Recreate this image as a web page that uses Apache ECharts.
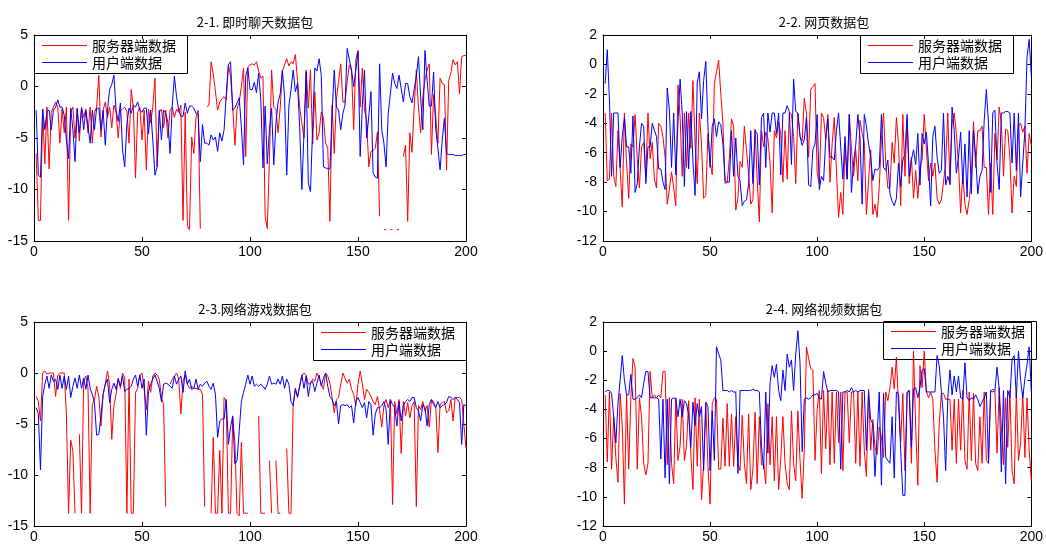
<!DOCTYPE html>
<html>
<head>
<meta charset="utf-8">
<title>数据包</title>
<script src="https://cdn.jsdelivr.net/npm/echarts@6/dist/echarts.min.js"></script>
<style>
  html, body { margin: 0; padding: 0; background: #fff; }
  #chart { width: 1046px; height: 545px; }
</style>
</head>
<body>
<div id="chart"></div>
<script>
// titles / legend names / ticks
const titles = ['2-1. 即时聊天数据包', '2-2. 网页数据包', '2-3.网络游戏数据包', '2-4. 网络视频数据包']
const seriesNames = ['服务器端数据', '用户端数据']
const seriesColors = ['#ff0000', '#0000ff']
const xTicks = [0, 50, 100, 150, 200]
const yTicksWide = [-15, -10, -5, 0, 5]
const yTicksNarrow = [-12, -10, -8, -6, -4, -2, 0, 2]

// 2-1 即时聊天
const chatServer = [
  -6.5, -13, -13, -2.2, -7.5, -2, -8, -2.5, -2, -1.5,
  -2, -5.5, -2.2, -4.5, -2, -13, -2.5, -2, -5, -2.2,
  -5.3, -2, -3, -2.2, -4.5, -2, -5.5, -2.5, -2, 1.1,
  -4.9, -2.3, -1.5, -3, -2, -4, -1.8, -2.5, -5, -2.3,
  -2.2, -2, -2.4, -5.5, -0.3, -2, -8.9, -2.5, -2, -5.2,
  -2.3, -8.1, -2.2, -3.5, -2, 0.8, -7.8, -2.5, -2.2, -4,
  -2.3, -5, -2.3, -2, -3, -2.2, -2.5, -1.8, -13, -2.5,
  -13.5, -13.9, -4.9, -6.5, -3, -2.3, -13.8, null, null, -2,
  -1.8, 2.4, 1.2, -0.5, -2.3, -1.5, -1.2, -1, -1.3, 2.1,
  1, -2, -5.7, -2.2, -1.5, 0, 1.8, -6.8, 1.9, 2.1,
  2.2, 2.1, 2.4, 1.5, 0.8, 1, -12.6, -13.8, -7, 1.6,
  -2, -2.2, -4.5, -2, 1.5, 2.1, 2.7, 2, 2.4, 2.2,
  3.1, 0.6, -2, -3.5, -5, 1.6, -2.1, 1.6, -5.6, -0.5,
  -5.2, -4.5, -2.5, -3, -5.5, -6, -13.1, -1.8, -6.5, -1.3,
  0.5, 2.2, -1.5, -1.5, 0.5, 2.1, 1.6, -4.2, 2.6, 3.5,
  -2, 1.8, -2.3, -3.2, -7.8, -6.3, -6.2, -6, -4.4, -12.6,
  null, -13.9, -13.9, null, -13.9, -13.9, null, -13.9, -13.9, null,
  -6.8, -5.7, -13.1, -4.5, -6.4, -2, 1.6, -2, -4.5, -1,
  0.6, 1.6, 2.2, -6.6, -0.8, -3, -5.5, 0.8, 0.3, 0.2,
  -8.1, 0.6, 1.3, 2.6, 2.1, 2.4, -0.7, 2.9, 3, 3
]
const chatClient = [
  -2.3, -8.6, -8.8, -2.2, -4.2, -2.4, -2.3, -4.2, -2.3, -2,
  -1.3, -2, -2, -2.8, -5.2, -7, -2.1, -4.2, -7.3, -2.1,
  -4.5, -2.1, -4.2, -2.3, -3.9, -5.5, -2.3, -4.2, -2.1, -2.1,
  -4.2, -2.3, -5.7, -2.3, -0.3, 0.2, 1.1, -2.3, -3.4, -1.6,
  -6.2, -7.8, -3.6, -2.1, -2.6, -1.8, -2, -1.5, -2.3, -2.5,
  -2.1, -2.1, -4.6, -2.3, -5.2, -8.6, -7.8, -2.3, -5.2, -2.3,
  -2.6, -3.5, -6.5, -1.9, 1, -1, -2.3, -2.9, -2.9, -1.6,
  -2.6, -1.9, -1.9, -2.1, -2.6, -2.7, -7.3, -3.7, -5.5, -5.5,
  -5.7, -4.7, -5.2, -4.9, -6.3, -4.5, -5.3, -4.2, -0.8, 2.1,
  2.4, -2.3, -2.1, -1.6, -1.1, -3.9, -7.6, 1, 1.8, -0.3,
  -0.3, 0.4, -0.6, 1.3, -1.3, -7.9, -1.9, -7.5, -4.2, -2.1,
  -7.6, -3.6, -1.5, -0.7, 1.6, -1, -8.6, -1.9, -0.3, 1.6,
  -0.5, 0.3, -4, -10, -4.5, 1.4, -9.4, -10.2, -4, 1.8,
  1.5, 2.7, 1.1, -7.8, -7.9, -8, -8, -2.6, 1.6, -2,
  -2.3, -4.2, -2.6, -1.8, 3.7, 2.6, 1.6, 0, 1.6, 3.4,
  -6.8, -1.9, 1.6, -5, -2.9, -0.5, -8.4, -8.8, -8.9, 2.2,
  -4.2, -5.5, -7.8, -2.6, -0.7, 1.3, 0.3, -0.2, 1.1, -0.2,
  -1.5, 0.3, 0.3, -1, -1.6, -0.3, 1, 2.9, -1, -4.2,
  3.5, 0.6, -1.9, -1.9, 1.4, -4.2, -6, -8.1, -5.2, -3.1,
  -6.5, -6.6, -6.6, -6.6, -6.7, -6.7, -6.7, -6.7, -6.6, -6.6
]

// 2-2 网页
const webServer = [
  -3.3, -7.9, -7.8, -3.3, -7.6, -8.3, -4.5, -7.1, -9.7, -3.3,
  -6.7, -9.1, -5.4, -5.6, -3.4, -6.4, -8.4, -5.6, -5.3, -7.6,
  -3.3, -6.4, -5.3, -7.8, -8.4, -4, -4.2, -4.9, -6.3, -9.5,
  -8.5, -7.3, -8.4, -9.6, -1.4, -3.6, -7.6, -3.3, -7, -3.3,
  -5.7, -1.1, -5.4, -8.1, -3.3, -5.4, -9.1, -8.9, -4.7, -6.6,
  -7.5, -1.3, -0.5, 0.3, -2, -4, -8.1, -8, -6.4, -3.7,
  -4.2, -9.9, -9.1, -6.6, -7, -4.2, -5.8, -7.5, -9.5, -9.2,
  -4.4, -7.8, -10.7, -4.5, -5.6, -4.6, -5, -6.7, -10.1, -4.5,
  -5, -3.9, -4.7, -8, -4.5, -7.8, -3.3, -3.4, -4.9, -8.1,
  -3.3, -4.9, -5.2, -2.3, -3.3, -6.3, -1.7, -1.5, -1.3, -7.4,
  -8.1, -3.3, -3.6, -5.1, -3.4, -8, -5.4, -3.6, -7.2, -10.4,
  -8.7, -10.2, -5.6, -7.8, -3.4, -5.7, -7.6, -5.8, -7.9, -3.8,
  -4.7, -5.3, -10.2, -7.9, -5.8, -10.2, -9.5, -10.4, -8.3, -5.1,
  -3.3, -6.6, -8.4, -8.4, -5.3, -6.7, -3.6, -5.5, -9.6, -3.4,
  -7.6, -3.7, -8.1, -6.3, -9.1, -7.2, -9.1, -7, -6.5, -3.4,
  -5.8, -7.9, -6.7, -7.6, -6.7, -9.1, -9.5, -9.2, -8, -6.7,
  -3.3, -8.2, -4, -3.3, -4.7, -6.8, -10.1, -7.4, -9.5, -10.2,
  -9.2, -7.6, -3.9, -7, -4.5, -4.5, -4.2, -7, -7, -10.2,
  -6.7, -10.2, -4.7, -6.5, -2.9, -4, -7.6, -4.4, -4.5, -6.3,
  -10.1, -7.6, -8.3, -4.2, -4, -4.6, -4.2, -7.4, -4.7, -5.5
]
const webClient = [
  -1.3, 1.0, -2.4, -7.6, -3.3, -3.3, -3.3, -7, -4.9, -3.6,
  -5.6, -5.6, -7.4, -3.5, -8.7, -8.1, -5.6, -4, -4.2, -8.1,
  -5.6, -5.6, -4, -4.5, -4.9, -7.1, -7.1, -8, -8.5, -1.6,
  -3.1, -7, -3.3, -7.5, -3.9, -1, -3.3, -8.3, -3.2, -7.1,
  -3.2, -6.6, -8.9, -1.2, -0.5, -3.7, -1.1, 0.2, -4.2, -7,
  -4.2, -3.7, -4.9, -3.9, -4.1, -5.4, -7.9, -8, -8, -4.5,
  -7.6, -5, -7.6, -7.9, -9.6, -9.3, -9.2, -8.1, -4.5, -8.1,
  -4.5, -4.7, -8.2, -3.6, -3.3, -7, -3.3, -4.6, -3.3, -3.3,
  -4.7, -3.3, -7.5, -3.3, -3.3, -2.8, -3.2, -6.8, -1, -3.2,
  -3.3, -4.9, -5.5, -5.1, -3.6, -8.2, -8.3, -5.8, -5.4, -3.4,
  -8.5, -7.6, -7.9, -5.1, -3.7, -6.3, -6.3, -6.5, -4.5, -3.3,
  -5.6, -7.8, -4.9, -7.8, -3.4, -8.7, -6.7, -5.5, -3.4, -5,
  -9.5, -3.4, -4.2, -5.4, -6.3, -7.9, -7.1, -7.2, -7, -3.4,
  -7, -7.2, -6.5, -8.8, -9.3, -9.6, -9.1, -6.7, -8.3, -6.5,
  -6.1, -3.4, -7.6, -6.5, -5.8, -6.8, -4.7, -8.2, -4.7, -5.4,
  -4.6, -6.8, -9.6, -4.9, -4.2, -6.3, -7.4, -7.2, -3.3, -8.2,
  -7.6, -8.1, -2.9, -4.5, -7.4, -6.3, -4.6, -8.1, -5.4, -9,
  -4.5, -8.8, -4.5, -6.2, -8.8, -7.6, -7.2, -3.8, -1.7, -4,
  -8.7, -3.3, -3.1, -6.7, -8.5, -3.3, -3.3, -3.2, -3.2, -3.3,
  -6.7, -3.3, -7.2, -3.3, -9, -6.7, -4.5, 0.5, 1.7, -0.8
]

// 2-3 网络游戏
const gameServer = [
  -2.3, -2.8, -4.7, 0, 0.2, -0.1, 0, 0, 0, -2.3,
  -0.2, 0, 0, 0, -4, -13.75, -6.6, -7.6, -13.75, null,
  -6, -13.75, -0.8, -0.3, -1.5, -13.75, -3.1, -2.6, -1.3, -2.3,
  -5.2, -2.1, -1.1, 0.2, -1.1, -6.5, -3.2, -2.1, -0.5, -1.5,
  0, -0.5, -13.75, -0.6, -13.75, -13.75, -1.9, -1.5, -0.2, 0,
  -1.6, -3.6, -0.8, -1.9, -0.3, 0, -0.2, -0.6, -2.4, -3.1,
  -13.1, null, -1.1, -0.6, -0.3, 0, -0.6, -4, -0.8, -0.2,
  -1.1, -1.5, -1.3, -1.5, -1.5, -1.6, -1.6, -2.1, -13.1, null,
  null, -13.75, -6.3, -13.75, -13.75, -7.6, -13.75, -2.4, -2.8, -13.75,
  -13.75, -4.4, -6.8, -13.75, -14, -6.8, -13.75, -13.75, -13.75, null,
  -13.75, null, null, -4.2, -13.75, -13.75, -13.75, null, -8.6, -13.75,
  null, -8.6, -13.75, -13.75, null, null, -7.4, -13.75, -13.75, -3.1,
  -1.6, -2.3, -1.3, -0.2, 0, -0.2, -1.1, -1, -0.6, -0.8,
  0, -0.5, -1.1, -1.6, 0, -0.3, -1, -2.4, -3.9, -2.6,
  -2.4, -1.1, 0, -0.5, -1, -0.6, -1.6, -2.1, -3.2, -1.1,
  0.2, -1, -2.6, -1.6, -1.9, -2.3, -2.8, -3.1, -2.3, -3.6,
  -5.3, -3.2, -2.6, -3.4, -2.6, -12.9, -2.8, -4, -2.6, -7.9,
  -2.8, -4.2, -2.9, -4.4, -3.2, -2.8, -13.1, -3.2, -3.6, -2.8,
  -3.7, -3.2, -5.3, -2.6, -2.8, -3.4, -7.8, -3.1, -2.9, -2.8,
  -3.9, -3.7, -2.6, -4.7, -2.4, -2.4, -2.4, -2.6, -5, -7.4
]
const gameClient = [
  -3.4, -4, -9.5, -2.3, -1.1, -0.3, -1.5, -0.2, -0.8, -0.6,
  -1.6, -0.2, -1.5, -0.3, -1.6, -0.3, -2.4, -1.3, -0.5, -1.5,
  -0.2, -1.5, -0.5, -1.6, -0.2, -1.5, -2.1, -2.9, -6.1, -6,
  -4.2, -2.1, -1.1, -0.6, -2.9, -1.6, -1, -1.6, -0.6, -1.3,
  -0.3, -1.8, -1.6, -1.5, -1.3, -0.6, -0.2, -1.3, -0.2, -1.5,
  -0.6, -6.1, -1.8, -1.1, -0.6, -0.2, -0.8, -1.5, -2.8, -1.1,
  -1, -1.1, -1.3, -1.5, -0.3, -1.1, -0.6, -0.3, -1.9, 0.2,
  -1.1, -0.6, -1.6, -1.5, -0.6, -1.6, -1.1, -1.3, -1, -0.8,
  -1.3, -1.6, -1, -2.1, -6.3, -4.7, -4.5, -4.5, -2.6, -7,
  -5.3, -4.2, -8.9, -8.6, -5.7, -2.8, -1.9, -1.1, -0.2, -1.1,
  -0.3, -1.3, -1.1, -1.3, -1.1, -1.3, -1.6, -1.1, -0.3, -1.1,
  -1, -1.1, -0.6, -1.1, -0.3, -1.5, -0.6, -1.1, -2.8, -3.2,
  -1.5, -2.4, -1.3, -0.2, -1.5, -0.3, -2.3, -1, -0.8, -1.8,
  -1, -0.2, -1.3, -0.5, 0, -1.3, -2.3, -2.6, -3.2, -2.8,
  -5, -3.2, -3.1, -3.2, -3.1, -3.4, -3.2, -4.9, -2.8, -2.4,
  -2.9, -3.4, -2.9, -4.4, -2.8, -3.1, -6.1, -4, -3.4, -3.4,
  -3.2, -2.8, -3.6, -7, -2.6, -3.1, -3.4, -5.2, -2.8, -4.7,
  -3.2, -2.8, -2.6, -2.8, -2.4, -2.4, -3.4, -3.7, -4.7, -3.1,
  -3.4, -5.2, -3.1, -2.6, -3.1, -3.4, -2.8, -3.4, -3.2, -3.1,
  -2.9, -2.3, -2.4, -2.6, -2.4, -2.6, -2.9, -7, -3.1, -3.2
]

// 2-4 网络视频
const videoServer = [
  -3, -7.6, -2.8, -8.1, -4.5, -7.3, -9, -2.9, -5.2, -10.5,
  -3, -8.1, -3.2, -0.5, -1.1, -8.1, -3.2, -4.5, -7.7, -8.5,
  -7.7, -1.4, -3.2, -3, -3.2, -3, -3.2, -1.4, -1.4, -7.8,
  -3.2, -7.7, -9.1, -3.2, -7.5, -6.5, -3.3, -7.5, -6.5, -3.4,
  -7.1, -9.5, -3.2, -7.9, -3.3, -10.2, -7.7, -3.6, -7.9, -10.5,
  -3.6, -3.2, -3.3, -8.1, -8.1, -4.6, -7.9, -3.6, -7.9, -4.3,
  -7.9, -4.5, -7.7, -8.2, -4.4, -7.7, -9.1, -4.3, -9.5, -8.1,
  -4.2, -9.1, -4.5, -7.8, -7.7, -9.1, -3.6, -7.8, -4.5, -8.9,
  -4.5, -9.5, -7.4, -4.5, -7.7, -9.1, -9.5, -4.1, -7.7, -8.9,
  -4.1, -7.5, -10.1, -6.8, 0.3, -0.5, -1.2, -1.3, -7.5, -4,
  -2.7, -8.4, -2.7, -6.7, -2.7, -7.8, -2.8, -7.7, -2.8, -6.3,
  -2.8, -8.2, -2.8, -2.8, -6.3, -2.8, -2.8, -7.7, -2.8, -7.9,
  -2.8, -6.8, -8.6, -2.6, -6.8, -4.7, -6.6, -7.1, -5.2, -5.9,
  -7.3, -2.8, -3.4, -2.5, -1.1, -2.6, -0.4, -3.8, -6.2, -2.9,
  -8.2, -2.9, -2.7, -7.7, 0, -5.2, -9.2, -1, -2.5, 0,
  -2.8, -3.2, -2.8, -3.3, -6.8, -9, -5, -2.9, -2.9, -3.3,
  -3.3, -3.3, -6.8, -3.3, -7.7, -3.3, -6.8, -2.7, -7.5, -8.1,
  -2.8, -7.5, -2.9, -7.7, -8.2, -4.5, -7.7, -2.8, -7.5, -7.7,
  -2.8, -2.6, -2.7, -7, -2.5, -5.2, -7.8, -3.2, -6.6, -2.7,
  -8.2, -9.1, -2.8, -7.5, -6.3, -2.8, -7.3, -3.2, -6.8, -8.9
]
const videoClient = [
  -2.8, -2.7, -2.7, -2.9, -4.5, -6.3, -3.6, -2, -0.3, -2,
  -3, -3, -1.6, -3.3, -3.3, -3.2, -3, -3.2, -2.2, -1.4,
  -1.4, -3.2, -3.2, -3.2, -3.2, -3.3, -7.4, -3.3, -8.7, -3.3,
  -9.1, -3.3, -3.2, -3.3, -4.5, -3.3, -4.5, -3.4, -3.6, -4.4,
  -6.6, -3.5, -5.1, -3.6, -4.5, -3.8, -8.2, -3.5, -3.8, -8.2,
  -4.1, -7.5, 0.3, -0.2, -0.6, -2.7, -2.7, -2.7, -2.8, -2.7,
  -2.8, -2.8, -8.4, -2.7, -2.7, -2.7, -2.7, -2.7, -2.7, -2.6,
  -2.7, -2.7, -2.8, -6.5, -8.1, -2.8, -7, -2.2, -1, -1.8,
  -0.9, -2.7, -3.4, -1.3, -2.7, -0.2, -1.1, -0.6, -2.7, -0.2,
  1.4, -0.8, -6.9, -3.3, -3.2, -3.3, -3.2, -3, -3, -2.9,
  -3.2, -3.3, -1.4, -2.2, -2.8, -2.7, -2.7, -2.7, -2.7, -2.8,
  -8.1, -2.8, -2.8, -2.7, -2.8, -2.5, -2.8, -2.7, -2.8, -2.7,
  -2.7, -2.7, -6.8, -2.8, -4.7, -5, -8.6, -5.7, -2.8, -9.2,
  -2.9, -7.3, -7.5, -7.7, -4.5, -8.7, -2.8, -2.9, -6.8, -9.9,
  -9.9, -2.8, -2.7, -6.6, -2.6, -2.5, -3.2, -2.5, -1.3, -1.2,
  -2.8, -2.8, -2.8, -2.8, -2.8, -0.3, -1, -2.8, -4.5, -8.2,
  -3.2, -1.3, -3, -1.7, -2.8, -1.7, -3.2, -3.3, -0.8, -3.2,
  -3.4, -3.2, -3.3, -3, -3.3, -3.8, -3.5, -3.2, -2.8, -7.7,
  -2.7, -2.8, -2.7, -1.1, -2.6, -8.3, -2.7, -9.1, -2.7, -3.2,
  -0.6, -0.3, -3.2, 0, -2, -3.2, -1.9, -0.9, 0.3, -2.8
]

const panels = [
  { server: chatServer, client: chatClient, yTicks: yTicksWide },
  { server: webServer, client: webClient, yTicks: yTicksNarrow },
  { server: gameServer, client: gameClient, yTicks: yTicksWide },
  { server: videoServer, client: videoClient, yTicks: yTicksNarrow },
]

// pixel layout of the four axes boxes
const boxes = [
  { left: 34, top: 35, width: 432, height: 206 },
  { left: 603, top: 35, width: 432, height: 206 },
  { left: 34, top: 322, width: 432, height: 204 },
  { left: 603, top: 322, width: 432, height: 204 },
]
// legend boxes (drawn as graphic, MATLAB style)
const legendPos = [
  { left: 34, top: 35 },
  { left: 860, top: 35 },
  { left: 313, top: 322 },
  { left: 883, top: 321 },
]
const legendW = 153
const legendH = 38

const fontFamily = '"Liberation Sans", Arial, "Noto Sans CJK SC", sans-serif'
const cjkFont = '"Noto Sans CJK SC", "Liberation Sans", sans-serif'

function toPairs(arr) {
  return arr.map((v, i) => [i + 1, v == null ? '-' : v])
}

function axisCommon(showLabel, margin) {
  return {
    axisLine: { show: true, onZero: false, lineStyle: { color: '#000', width: 1 } },
    axisTick: { show: true, inside: true, length: 4, lineStyle: { color: '#000' } },
    axisLabel: { show: showLabel, color: '#000', fontSize: 14, fontFamily: fontFamily, margin: margin || 6 },
    splitLine: { show: false },
  }
}

function legendBox(pos) {
  const rows = [10.5, 27.5]
  const children = [{
    type: 'rect',
    shape: { x: 0.5, y: 0.5, width: legendW, height: legendH },
    style: { fill: '#fff', stroke: '#000', lineWidth: 1 },
  }]
  seriesNames.forEach((n, k) => {
    children.push({
      type: 'line',
      shape: { x1: 8, y1: rows[k], x2: 53, y2: rows[k] },
      style: { stroke: seriesColors[k], lineWidth: 1 },
    })
    children.push({
      type: 'text',
      x: 58, y: rows[k],
      style: { text: n, fill: '#000', fontSize: 14, fontFamily: cjkFont, verticalAlign: 'middle' },
    })
  })
  return { type: 'group', x: pos.left, y: pos.top, z: 100, children: children }
}

const grid = []
const xAxis = []
const yAxis = []
const series = []
const title = []
const graphic = []

panels.forEach((p, i) => {
  grid.push(Object.assign({ containLabel: false, show: false }, boxes[i]))
  const yMin = p.yTicks[0]
  const yMax = p.yTicks[p.yTicks.length - 1]
  const yInt = p.yTicks[1] - p.yTicks[0]
  const xMin = xTicks[0]
  const xMax = xTicks[xTicks.length - 1]
  const xInt = xTicks[1] - xTicks[0]

  // bottom / left with labels
  xAxis.push(Object.assign({
    type: 'value', gridIndex: i, position: 'bottom',
    min: xMin, max: xMax, interval: xInt,
  }, axisCommon(true, 4)))
  yAxis.push(Object.assign({
    type: 'value', gridIndex: i, position: 'left',
    min: yMin, max: yMax, interval: yInt,
  }, axisCommon(true, 6)))

  title.push({
    text: titles[i],
    left: boxes[i].left + boxes[i].width / 2,
    top: i < 2 ? 11 : 298,
    textAlign: 'center',
    textStyle: { fontSize: 13, fontWeight: 'normal', color: '#000', fontFamily: cjkFont },
  })

  graphic.push(legendBox(legendPos[i]))

  series.push({
    name: seriesNames[0], type: 'line', xAxisIndex: i, yAxisIndex: i,
    data: toPairs(p.server), symbol: 'none', connectNulls: false,
    lineStyle: { color: seriesColors[0], width: 1 }, itemStyle: { color: seriesColors[0] },
  })
  series.push({
    name: seriesNames[1], type: 'line', xAxisIndex: i, yAxisIndex: i,
    data: toPairs(p.client), symbol: 'none', connectNulls: false,
    lineStyle: { color: seriesColors[1], width: 1 }, itemStyle: { color: seriesColors[1] },
  })
})

// top / right axes only for the box and the inner ticks
panels.forEach((p, i) => {
  xAxis.push(Object.assign({
    type: 'value', gridIndex: i, position: 'top',
    min: xTicks[0], max: xTicks[xTicks.length - 1], interval: xTicks[1] - xTicks[0],
  }, axisCommon(false)))
  yAxis.push(Object.assign({
    type: 'value', gridIndex: i, position: 'right',
    min: p.yTicks[0], max: p.yTicks[p.yTicks.length - 1], interval: p.yTicks[1] - p.yTicks[0],
  }, axisCommon(false)))
})

const chart = echarts.init(document.getElementById('chart'))
chart.setOption({
  animation: false,
  backgroundColor: '#fff',
  title: title,
  grid: grid,
  xAxis: xAxis,
  yAxis: yAxis,
  series: series,
  graphic: graphic,
})
</script>
</body>
</html>
